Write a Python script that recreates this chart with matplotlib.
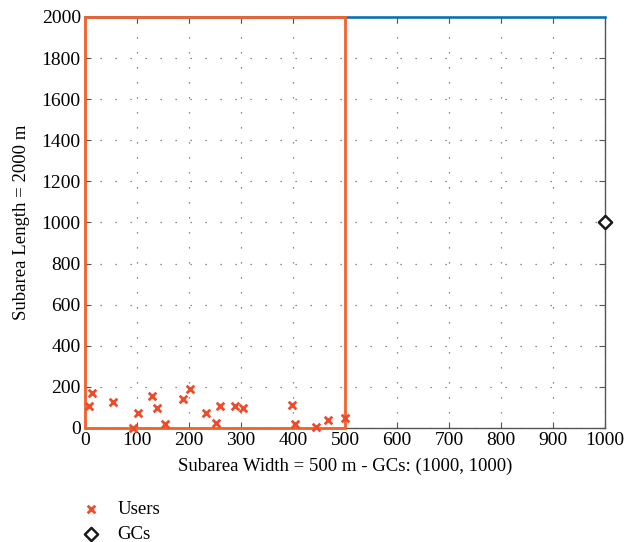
import matplotlib.pyplot as plt
from matplotlib.patches import Rectangle

plt.rcParams['font.family'] = ['Liberation Serif', 'DejaVu Serif']

# user positions (m)
users_x = [8, 13, 53, 93, 101, 128, 138, 154, 189, 202, 232, 251, 259, 289, 303, 398, 403, 445, 467, 500]
users_y = [108, 170, 125, 2, 71, 156, 97, 18, 140, 190, 73, 23, 107, 107, 97, 110, 19, 5, 37, 50]
gc_x = [1000]
gc_y = [1000]

area_w, area_h = 1000, 2000
sub_w, sub_h = 500, 2000

fig = plt.figure(figsize=(6.35, 5.42), dpi=100)
ax = fig.add_axes([85/635, 1 - 428/542, 520/635, 411/542])

# whole area outline (top edge) and the subarea box
ax.plot([0, area_w], [area_h, area_h], color='#0072BD', lw=1.8, clip_on=False, zorder=3)
ax.add_patch(Rectangle((0, 0), sub_w, sub_h, fill=False, edgecolor='#F4622A',
                       lw=2.0, clip_on=False, zorder=4))

ax.scatter(users_x, users_y, marker='x', s=30, color='#EE4B2B', linewidths=2.0,
           label='Users', clip_on=False, zorder=5)
ax.scatter(gc_x, gc_y, marker='D', s=45, facecolor='white', edgecolor='#1a1a1a',
           linewidths=1.8, label='GCs', clip_on=False, zorder=5)

ax.set_xlim(0, area_w)
ax.set_ylim(0, area_h)
ax.set_xticks(range(0, 1001, 100))
ax.set_yticks(range(0, 2001, 200))
ax.tick_params(direction='in', top=True, right=True, labelsize=14,
               color='#555555', length=4, pad=3)
for s in ax.spines.values():
    s.set_color('#555555')
    s.set_linewidth(1.0)
ax.grid(True, color='#666666', linestyle=(0, (1, 11)), linewidth=0.9)

ax.set_xlabel('Subarea Width = 500 m - GCs: (1000, 1000)', fontsize=13.5, labelpad=6)
ax.set_ylabel('Subarea Length = 2000 m', fontsize=13.5, labelpad=8)

fig.legend(loc='upper left', bbox_to_anchor=(65/635, 1 - 493/542), frameon=False,
           fontsize=13.5, handletextpad=0.4, labelspacing=0.45, borderaxespad=0)

fig.savefig('out.png', dpi=100)
